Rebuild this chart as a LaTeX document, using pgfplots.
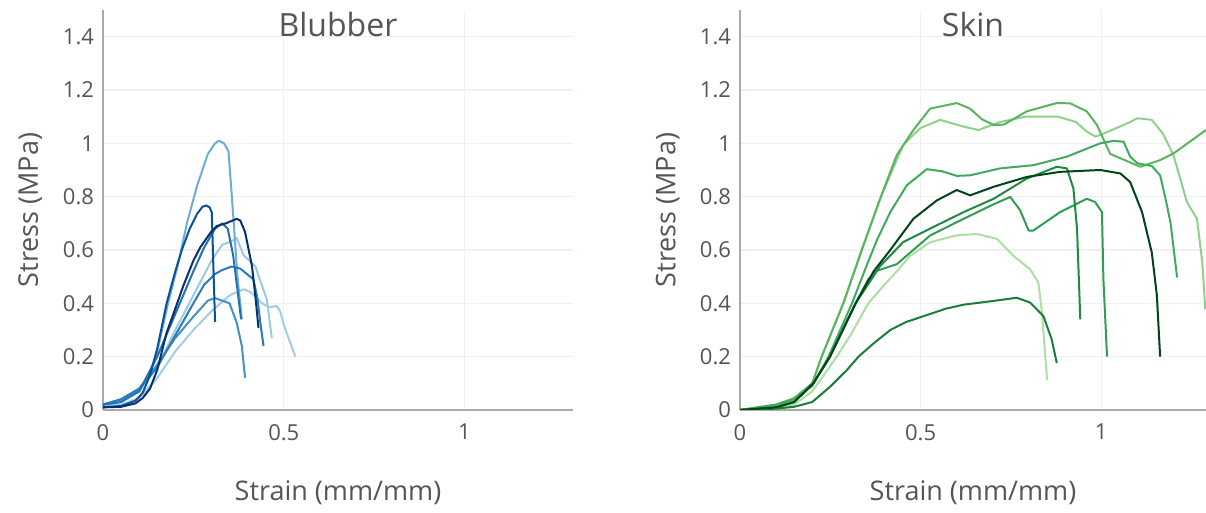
\documentclass[border=0pt]{standalone}
\usepackage{pgfplots}
\pgfplotsset{compat=1.18}
\usepackage{fontspec}
\setmainfont{Open Sans}
\definecolor{axisgray}{HTML}{AAAAAA}
\definecolor{gridc}{HTML}{F2EEF2}
\definecolor{txt}{HTML}{555555}
\definecolor{bA}{HTML}{6AAED6}
\definecolor{bB}{HTML}{08519C}
\definecolor{bC}{HTML}{08306B}
\definecolor{bD}{HTML}{2171B5}
\definecolor{bE}{HTML}{2B7BBA}
\definecolor{bF}{HTML}{9ECAE1}
\definecolor{bG}{HTML}{4292C6}
\definecolor{bH}{HTML}{A6CBE5}
\definecolor{g1}{HTML}{5AB45E}
\definecolor{g2}{HTML}{8FD18A}
\definecolor{g3}{HTML}{41AB5D}
\definecolor{g4}{HTML}{00441B}
\definecolor{g5}{HTML}{1E8A43}
\definecolor{g6}{HTML}{2E9E51}
\definecolor{g7}{HTML}{ACDEA5}
\definecolor{g8}{HTML}{1A7D3A}
\pgfplotsset{
  every axis title/.style={at={(0.5,0.9325)}, anchor=base, font=\fontsize{16}{19}\selectfont, text=txt},
  panel/.style={
    scale only axis, height=200pt,
    ymin=0, ymax=1.5, xmin=0,
    axis x line*=bottom, axis y line*=left,
    axis line style={draw=axisgray, line width=1pt, -},
    grid=major, major grid style={draw=gridc, line width=0.6pt},
    major tick length=0pt,
    ytick={0,0.2,0.4,0.6,0.8,1,1.2,1.4},
    xtick={0,0.5,1},
    /pgf/number format/assume math mode=true,
    ticklabel style={font=\fontsize{11}{13}\selectfont, text=txt},
    yticklabel style={xshift=-1pt},
    xticklabel style={yshift=-3.5pt},
    xlabel={Strain (mm/mm)}, ylabel={Stress (MPa)},
    xlabel style={font=\fontsize{13.5}{16}\selectfont, text=txt, at={(axis description cs:0.5,-0.2075)}, anchor=center},
    ylabel style={font=\fontsize{13.5}{16}\selectfont, text=txt, at={(axis description cs:-0.155,0.5)}, anchor=center, rotate=0},
    every axis plot/.append style={line width=1pt, line join=round, no markers},
  }
}
\begin{document}
\begin{tikzpicture}
\path[use as bounding box] (0,0) rectangle (603pt,256.5pt);
\begin{axis}[panel, at={(51.5pt,51.5pt)}, anchor=south west, width=235pt, xmax=1.3, title={Blubber}]
\addplot[bH] coordinates {(0,0.01)(0.05,0.02)(0.10,0.045)(0.15,0.12)(0.20,0.22)(0.25,0.30)(0.30,0.37)(0.35,0.43)(0.39,0.453)(0.41,0.44)(0.44,0.40)(0.46,0.385)(0.48,0.39)(0.49,0.37)(0.50,0.32)(0.532,0.20)};
\addplot[bF] coordinates {(0,0.01)(0.05,0.03)(0.10,0.07)(0.15,0.16)(0.20,0.30)(0.25,0.43)(0.30,0.56)(0.33,0.62)(0.352,0.63)(0.37,0.645)(0.389,0.58)(0.421,0.54)(0.453,0.415)(0.467,0.27)};
\addplot[bA] coordinates {(0,0.02)(0.05,0.04)(0.10,0.07)(0.13,0.14)(0.15,0.22)(0.18,0.4)(0.21,0.56)(0.232,0.70)(0.26,0.84)(0.29,0.96)(0.31,1.0)(0.32,1.01)(0.335,1.0)(0.347,0.97)(0.357,0.79)(0.372,0.50)(0.384,0.34)};
\addplot[bG] coordinates {(0,0.02)(0.05,0.04)(0.10,0.08)(0.15,0.17)(0.20,0.27)(0.25,0.35)(0.27,0.38)(0.29,0.41)(0.31,0.42)(0.33,0.41)(0.35,0.40)(0.37,0.327)(0.384,0.24)(0.393,0.12)};
\addplot[bE] coordinates {(0,0.02)(0.05,0.04)(0.10,0.08)(0.15,0.16)(0.20,0.28)(0.25,0.40)(0.28,0.47)(0.31,0.51)(0.33,0.525)(0.356,0.538)(0.38,0.53)(0.416,0.49)(0.427,0.42)(0.435,0.33)(0.444,0.24)};
\addplot[bD] coordinates {(0,0.02)(0.05,0.03)(0.10,0.07)(0.15,0.2)(0.20,0.36)(0.25,0.52)(0.28,0.61)(0.31,0.68)(0.33,0.70)(0.345,0.68)(0.36,0.58)(0.372,0.45)(0.382,0.34)};
\addplot[bB] coordinates {(0,0.01)(0.05,0.015)(0.09,0.035)(0.11,0.065)(0.13,0.13)(0.15,0.23)(0.176,0.4)(0.20,0.52)(0.218,0.60)(0.24,0.68)(0.26,0.735)(0.275,0.762)(0.285,0.767)(0.295,0.76)(0.301,0.74)(0.305,0.55)(0.31,0.33)};
\addplot[bC] coordinates {(0,0.01)(0.05,0.012)(0.09,0.025)(0.11,0.045)(0.13,0.08)(0.15,0.15)(0.176,0.29)(0.20,0.38)(0.222,0.465)(0.25,0.56)(0.269,0.61)(0.30,0.67)(0.315,0.69)(0.34,0.70)(0.37,0.717)(0.38,0.71)(0.393,0.667)(0.412,0.54)(0.422,0.42)(0.43,0.308)};
\end{axis}
\begin{axis}[panel, at={(370pt,51.5pt)}, anchor=south west, width=233pt, xmax=1.29, title={Skin}]
\addplot[g7] coordinates {(0,0)(0.1,0.005)(0.15,0.02)(0.2,0.07)(0.268,0.2)(0.31,0.29)(0.355,0.4)(0.40,0.47)(0.434,0.52)(0.471,0.578)(0.526,0.629)(0.6,0.655)(0.656,0.66)(0.711,0.642)(0.757,0.578)(0.803,0.528)(0.826,0.478)(0.836,0.365)(0.85,0.113)};
\addplot[g2] coordinates {(0,0)(0.1,0.015)(0.15,0.04)(0.2,0.1)(0.226,0.2)(0.286,0.4)(0.337,0.6)(0.39,0.8)(0.452,0.994)(0.499,1.057)(0.554,1.088)(0.618,1.063)(0.66,1.05)(0.72,1.08)(0.79,1.10)(0.88,1.10)(0.93,1.08)(0.96,1.044)(0.985,1.025)(1.03,1.05)(1.08,1.08)(1.10,1.094)(1.14,1.088)(1.17,1.038)(1.20,0.956)(1.237,0.78)(1.265,0.717)(1.28,0.55)(1.288,0.377)};
\addplot[g1] coordinates {(0,0)(0.1,0.02)(0.15,0.045)(0.2,0.1)(0.226,0.2)(0.286,0.4)(0.337,0.6)(0.39,0.8)(0.434,0.956)(0.48,1.05)(0.526,1.13)(0.6,1.151)(0.637,1.13)(0.67,1.09)(0.702,1.069)(0.73,1.07)(0.794,1.12)(0.877,1.151)(0.914,1.15)(0.96,1.12)(0.988,1.069)(1.025,0.96)(1.06,0.94)(1.108,0.912)(1.163,0.937)(1.2,0.962)(1.29,1.05)};
\addplot[g3] coordinates {(0,0)(0.1,0.02)(0.15,0.04)(0.2,0.09)(0.245,0.2)(0.31,0.4)(0.35,0.54)(0.38,0.64)(0.416,0.742)(0.462,0.843)(0.517,0.903)(0.56,0.895)(0.6,0.878)(0.637,0.88)(0.72,0.906)(0.812,0.918)(0.905,0.95)(0.997,1.0)(1.034,1.009)(1.062,1.006)(1.08,0.95)(1.10,0.925)(1.14,0.915)(1.163,0.88)(1.18,0.78)(1.192,0.7)(1.21,0.497)};
\addplot[g8] coordinates {(0,0)(0.1,0.005)(0.15,0.012)(0.2,0.03)(0.25,0.088)(0.296,0.15)(0.328,0.2)(0.37,0.25)(0.416,0.3)(0.46,0.33)(0.526,0.36)(0.57,0.38)(0.619,0.395)(0.702,0.409)(0.766,0.421)(0.803,0.403)(0.84,0.352)(0.863,0.264)(0.877,0.176)};
\addplot[g6] coordinates {(0,0)(0.1,0.01)(0.15,0.03)(0.203,0.1)(0.249,0.2)(0.32,0.4)(0.355,0.49)(0.379,0.522)(0.434,0.547)(0.471,0.59)(0.526,0.654)(0.619,0.717)(0.70,0.77)(0.748,0.799)(0.775,0.75)(0.799,0.673)(0.812,0.673)(0.886,0.742)(0.96,0.792)(0.983,0.78)(1.002,0.742)(1.006,0.49)(1.016,0.20)};
\addplot[g5] coordinates {(0,0)(0.1,0.01)(0.15,0.03)(0.203,0.1)(0.249,0.2)(0.32,0.4)(0.388,0.54)(0.452,0.63)(0.526,0.68)(0.619,0.742)(0.702,0.792)(0.794,0.868)(0.877,0.912)(0.905,0.906)(0.923,0.83)(0.933,0.68)(0.942,0.34)};
\addplot[g4] coordinates {(0,0)(0.1,0.01)(0.15,0.03)(0.203,0.1)(0.249,0.2)(0.32,0.4)(0.37,0.52)(0.416,0.6)(0.48,0.717)(0.545,0.786)(0.6,0.825)(0.637,0.805)(0.702,0.837)(0.794,0.874)(0.886,0.893)(0.997,0.9)(1.053,0.887)(1.08,0.855)(1.113,0.742)(1.14,0.59)(1.154,0.43)(1.163,0.20)};
\end{axis}
\end{tikzpicture}
\end{document}
